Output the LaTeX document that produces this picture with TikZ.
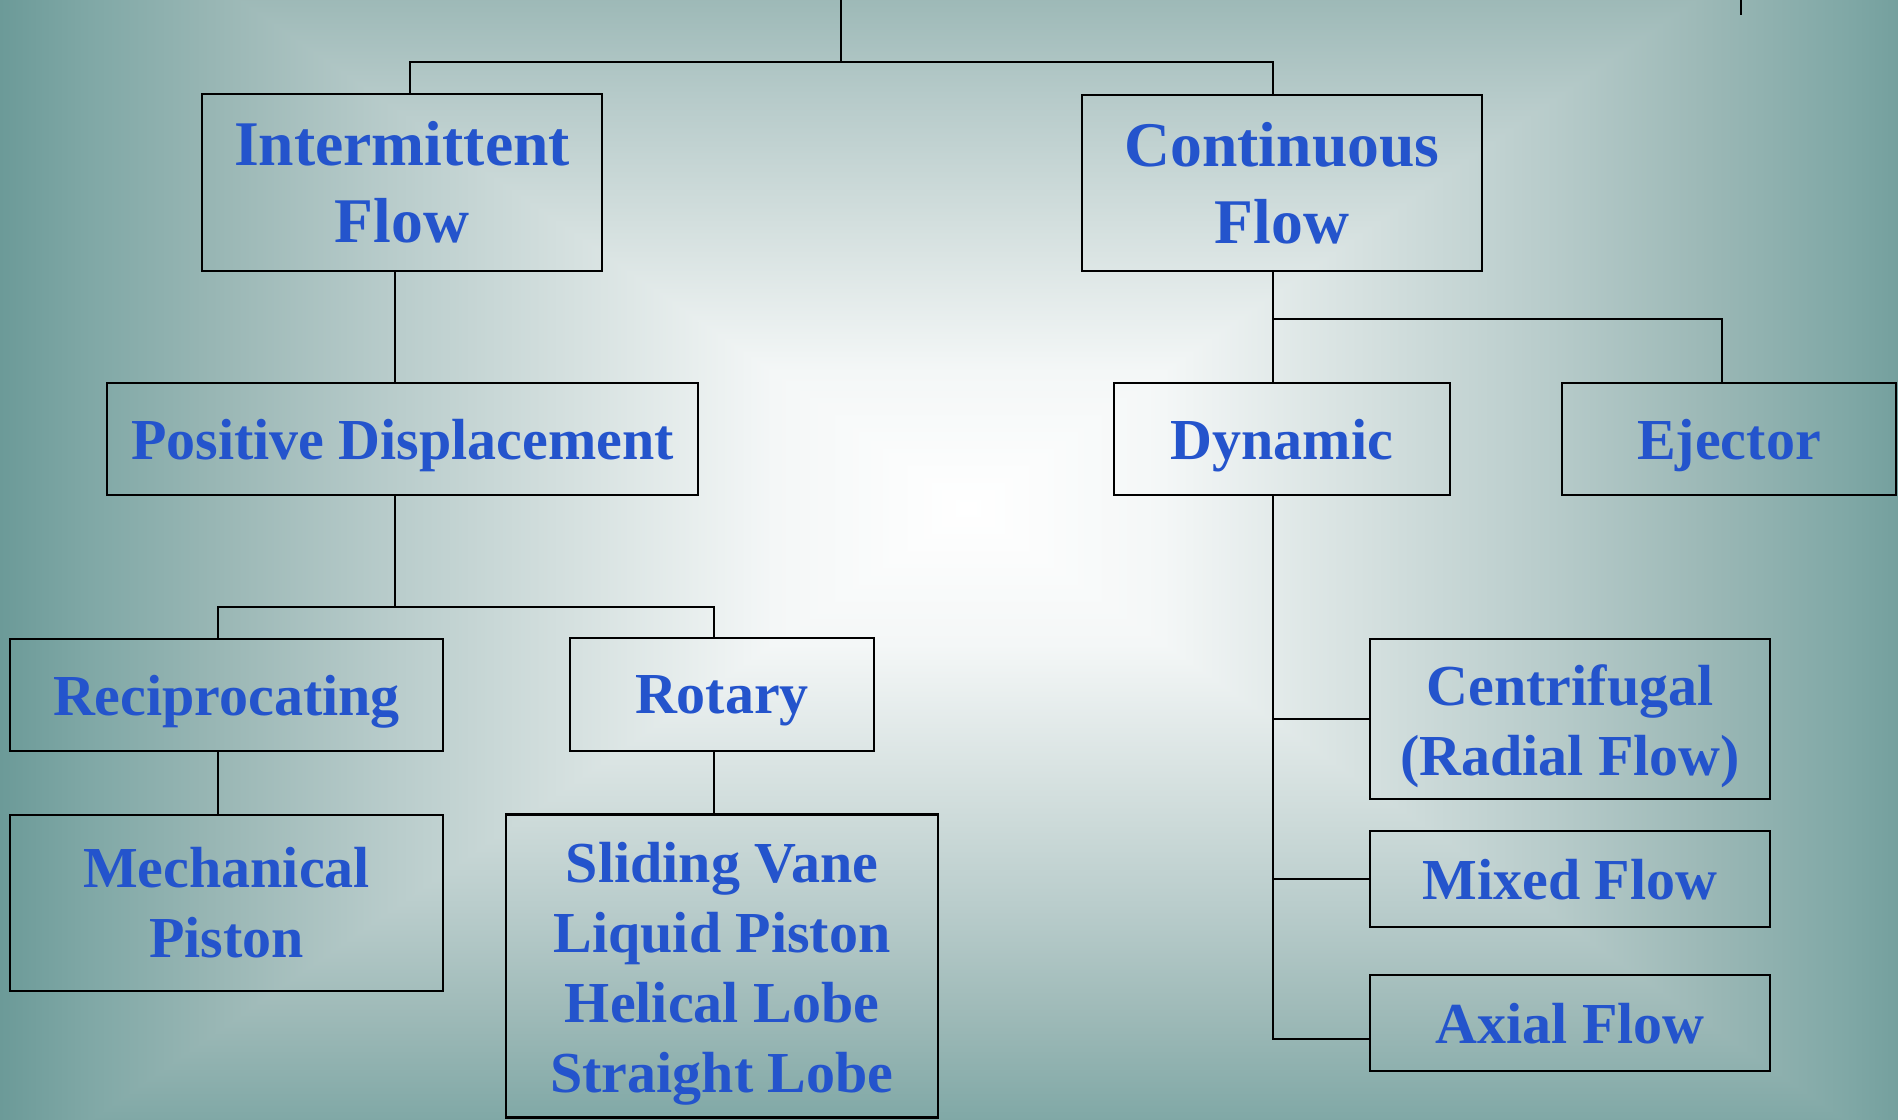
\documentclass[tikz,border=0pt]{standalone}
\usepackage{fontspec}
\setmainfont{Liberation Serif}
\usetikzlibrary{calc}

\definecolor{flowblue}{RGB}{36,84,204}
\definecolor{bgpale}{RGB}{244,247,247}
\definecolor{bglight}{RGB}{214,225,224}
\definecolor{bgmid}{RGB}{183,203,202}
\definecolor{bgtop}{RGB}{157,185,183}
\definecolor{bgdeep}{RGB}{128,168,166}
\definecolor{bgteal}{RGB}{106,153,151}

% slide background, white in the middle, teal at the rim
\pgfdeclareverticalshading{slideshade}{100bp}{color(0bp)=(white); color(25bp)=(white); color(35bp)=(bgpale); color(45bp)=(bglight); color(55bp)=(bgmid); color(62.5bp)=(bgtop); color(70bp)=(bgdeep); color(75bp)=(bgteal); color(100bp)=(bgteal)}

\newcommand{\boxfont}{\fontsize{16.5}{19.9}\selectfont\bfseries}
\newcommand{\headfont}{\fontsize{18.1}{21.9}\selectfont\bfseries}
\newcommand{\dropline}{\rule{0pt}{0.56cm}}

\tikzset{
  flowbox/.style={draw=black, line width=0.75pt, text=flowblue, align=center, inner sep=0pt, font=\boxfont},
  headbox/.style={flowbox, font=\headfont},
  onebox/.style={flowbox, text depth=0pt},
  link/.style={draw=black, line width=0.6pt},
}

\begin{document}
\begin{tikzpicture}
                \useasboundingbox (0,0) rectangle (18.980000,11.190000);

                % Drawing background
                \begin{scope}
                \clip (0,0) rectangle (18.980000,11.190000);
                \begin{scope}
                \clip (9.680000,6.110000) -- (-0.070000,13.110000) -- (-0.070000,-0.890000) -- cycle;
                \shade [shading=slideshade, shading angle=90] (-0.070000,-0.690000) rectangle (9.680000,12.910000);
                \end{scope}
                \begin{scope}
                \clip (9.680000,6.110000) -- (19.430000,13.110000) -- (19.430000,-0.890000) -- cycle;
                \shade [shading=slideshade, shading angle=-90] (9.680000,-0.690000) rectangle (19.430000,12.910000);
                \end{scope}
                \begin{scope}
                \clip (9.680000,6.110000) -- (-0.070000,12.910000) -- (19.430000,12.910000) -- cycle;
                \shade [shading=slideshade] (-0.070000,6.110000) rectangle (19.430000,12.910000);
                \end{scope}
                \begin{scope}
                \clip (9.680000,6.110000) -- (-0.070000,-0.690000) -- (19.430000,-0.690000) -- cycle;
                \shade [shading=slideshade, shading angle=180] (-0.070000,-0.690000) rectangle (19.430000,6.110000);
                \end{scope}
                \end{scope}

                % Drawing boxes of the first level
                \node [headbox, minimum width=4.00cm, minimum height=1.77cm] (interm) at (4.020000,9.365000) {Intermittent\\Flow};
                \node [headbox, minimum width=4.00cm, minimum height=1.76cm] (contin) at (12.820000,9.360000) {Continuous\\Flow};

                % Drawing boxes of the second level
                \node [onebox, minimum width=5.91cm, minimum height=1.12cm] (posdisp) at (4.025000,6.800000) {Positive Displacement};
                \node [onebox, minimum width=3.36cm, minimum height=1.12cm] (dynamic) at (12.820000,6.800000) {Dynamic};
                \node [onebox, minimum width=3.34cm, minimum height=1.12cm] (ejector) at (17.290000,6.800000) {Ejector};

                % Drawing boxes under positive displacement
                \node [onebox, minimum width=4.33cm, minimum height=1.12cm] (recip) at (2.265000,4.240000) {Reciprocating};
                \node [onebox, minimum width=3.04cm, minimum height=1.13cm] (rotary) at (7.220000,4.245000) {Rotary};
                \node [flowbox, minimum width=4.33cm, minimum height=1.76cm] (mechpist) at (2.265000,2.160000) {Mechanical\\Piston};
                \node [flowbox, minimum width=4.32cm, minimum height=3.03cm] (rotkinds) at (7.220000,1.530000) {\dropline Sliding Vane\\Liquid Piston\\Helical Lobe\\Straight Lobe};

                % Drawing boxes under dynamic
                \node [flowbox, minimum width=4.00cm, minimum height=1.60cm] (centrif) at (15.700000,4.000000) {\dropline Centrifugal\\(Radial Flow)};
                \node [onebox, minimum width=4.00cm, minimum height=0.96cm] (mixed) at (15.700000,2.400000) {Mixed Flow};
                \node [onebox, minimum width=4.00cm, minimum height=0.96cm] (axial) at (15.700000,0.960000) {Axial Flow};

                % Joints of the connectors
                \coordinate (root) at (8.410000,11.190000);
                \coordinate (rootjoin) at (8.410000,10.570000);
                \coordinate (edgetop) at (17.410000,11.190000);
                \coordinate (edgestub) at (17.410000,11.040000);
                \coordinate (pdjoin) at (3.950000,5.120000);
                \coordinate (cfjoin) at (12.730000,8.000000);
                \coordinate (dyntrunk) at (12.730000,0.800000);

                % Drawing connectors at the top
                \draw [link] (root) -- (rootjoin);
                \draw [link] ([xshift=0.08cm]interm.north) |- (rootjoin) -| ([xshift=-0.09cm]contin.north);
                \draw [link] (edgetop) -- (edgestub);

                % Drawing connectors of intermittent flow
                \draw [link] ([xshift=-0.07cm]interm.south) -- ([xshift=-0.075cm]posdisp.north);
                \draw [link] ([xshift=-0.075cm]posdisp.south) -- (pdjoin);
                \draw [link] ([xshift=-0.085cm]recip.north) |- (pdjoin) -| ([xshift=-0.08cm]rotary.north);
                \draw [link] ([xshift=-0.085cm]recip.south) -- ([xshift=-0.085cm]mechpist.north);
                \draw [link] ([xshift=-0.08cm]rotary.south) -- ([xshift=-0.08cm]rotkinds.north);

                % Drawing connectors of continuous flow
                \draw [link] ([xshift=-0.09cm]contin.south) -- ([xshift=-0.09cm]dynamic.north);
                \draw [link] (cfjoin) -| ([xshift=-0.07cm]ejector.north);
                \draw [link] ([xshift=-0.09cm]dynamic.south) |- ([yshift=-0.16cm]axial.west);
                \draw [link] (centrif.west) -- (centrif.west -| dyntrunk);
                \draw [link] (mixed.west) -- (mixed.west -| dyntrunk);
\end{tikzpicture}
\end{document}
